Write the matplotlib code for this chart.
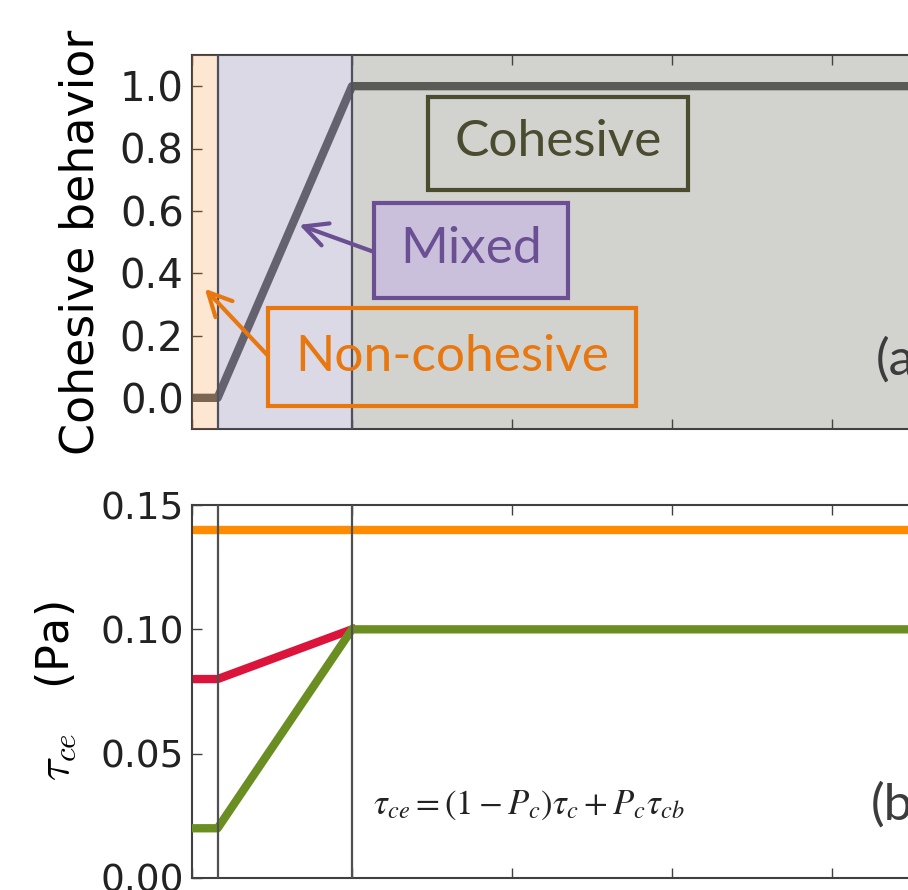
import numpy as np
import matplotlib
matplotlib.use('Agg')
import matplotlib.pyplot as plt
from matplotlib.patches import Rectangle

# clay fraction break points and the curves read along them
pc = [0.0, 0.016, 0.1, 0.5]
cohesive = [0.0, 0.0, 1.0, 1.0]
tau_sand = [0.14, 0.14, 0.14, 0.14]
tau_ce = [0.02, 0.02, 0.10, 0.10]
tau_ce_alt = [0.08, 0.08, 0.10]

pc_lo, pc_hi = pc[1], pc[2]
x_ticks = [0.0, 0.1, 0.2, 0.3, 0.4, 0.5]
y_ticks_a = [0.0, 0.2, 0.4, 0.6, 0.8, 1.0]
y_ticks_b = [0.0, 0.05, 0.10, 0.15]

box_font = 'Lato'
box_size = 37
c_orange = '#e8770f'
c_purple = '#6a4f93'
c_olive = '#4b4b30'
c_spine = '#404040'

fig = plt.figure(figsize=(9.08, 8.90), dpi=100)
ax1 = fig.add_axes([192/908, (890-429)/890, 800/908, 374/890])
ax2 = fig.add_axes([192/908, (890-878)/890, 800/908, 373/890])

for ax in (ax1, ax2):
    ax.set_xlim(0, 0.5)
    ax.set_xticks(x_ticks)
    ax.tick_params(direction='in', length=7, width=1, top=True, right=True,
                   colors=c_spine, labelcolor='#222222', pad=6)
    ax.tick_params(axis='x', labelbottom=False)
    for s in ax.spines.values():
        s.set_color(c_spine)
        s.set_linewidth(1.5)

# (a) cohesive behaviour
ax1.plot(pc, cohesive, color='#5e6060', lw=6, solid_joinstyle='round',
         zorder=2)
ax1.axvspan(0, pc_lo, color='#f88017', alpha=0.19, lw=0, zorder=3)
ax1.axvspan(pc_lo, pc_hi, color='#73699b', alpha=0.25, lw=0, zorder=3)
ax1.axvspan(pc_hi, 0.5, color='#4f4f3f', alpha=0.25, lw=0, zorder=3)
for xv in (pc_lo, pc_hi):
    ax1.axvline(xv, color='#505060', lw=1.6, zorder=4)
ax1.set_ylim(-0.1, 1.1)
ax1.set_yticks(y_ticks_a)
ax1.set_yticklabels(['%.1f' % v for v in y_ticks_a], fontsize=29)
ax1.set_ylabel('Cohesive behavior', fontsize=33, labelpad=12)

ax1.add_patch(Rectangle((0.1475, 0.668), 0.1625, 0.297, fill=False,
                        ec=c_olive, lw=3, zorder=5))
ax1.text(0.2288, 0.822, 'Cohesive', fontsize=box_size, family=box_font,
         color=c_olive, ha='center', va='center', zorder=6)

ax1.add_patch(Rectangle((0.1138, 0.319), 0.1212, 0.307, fc='#cbc0dc',
                        ec=c_purple, lw=3, zorder=5))
ax1.text(0.1744, 0.476, 'Mixed', fontsize=box_size, family=box_font,
         color=c_purple, ha='center', va='center', zorder=6)
ax1.annotate('', xy=(0.067, 0.555), xytext=(0.1138, 0.468),
             arrowprops=dict(arrowstyle='->', color=c_purple, lw=3,
                             mutation_scale=42, shrinkA=0, shrinkB=0),
             zorder=6)

ax1.add_patch(Rectangle((0.0475, -0.026), 0.23, 0.313, fill=False,
                        ec=c_orange, lw=3, zorder=5))
ax1.text(0.1625, 0.131, 'Non-cohesive', fontsize=box_size, family=box_font,
         color=c_orange, ha='center', va='center', zorder=6)
ax1.annotate('', xy=(0.008, 0.35), xytext=(0.0475, 0.135),
             arrowprops=dict(arrowstyle='->', color=c_orange, lw=3,
                             mutation_scale=42, shrinkA=0, shrinkB=0),
             zorder=6)

ax1.text(0.4275, 0.12, '(a)', fontsize=box_size, family=box_font,
         color='#3c3c3c', ha='left', va='center', zorder=6)

# (b) critical erosion shear stress
ax2.plot(pc, tau_sand, color='#ff8c00', lw=6, zorder=2)
ax2.plot(pc[:3], tau_ce_alt, color='#dc143c', lw=6,
         solid_joinstyle='round', zorder=2)
ax2.plot(pc, tau_ce, color='#6b8e23', lw=6, solid_joinstyle='round',
         zorder=3)
for xv in (pc_lo, pc_hi):
    ax2.axvline(xv, color='#505050', lw=1.6, zorder=4)
ax2.set_ylim(0, 0.15)
ax2.set_yticks(y_ticks_b)
ax2.set_yticklabels(['%.2f' % v for v in y_ticks_b], fontsize=27)
ax2.set_ylabel(r'$\tau_{ce}$   (Pa)', fontsize=32, labelpad=16,
               math_fontfamily='cm')

ax2.text(0.113, 0.0295, r'$\tau_{ce} = (1 - P_c)\tau_c + P_c\tau_{cb}$',
         fontsize=25, math_fontfamily='stix', color='#222222',
         ha='left', va='center')
ax2.text(0.4245, 0.0292, '(b)', fontsize=box_size, family=box_font,
         color='#3c3c3c', ha='left', va='center')

fig.savefig('out.png', dpi=100, facecolor='w')
